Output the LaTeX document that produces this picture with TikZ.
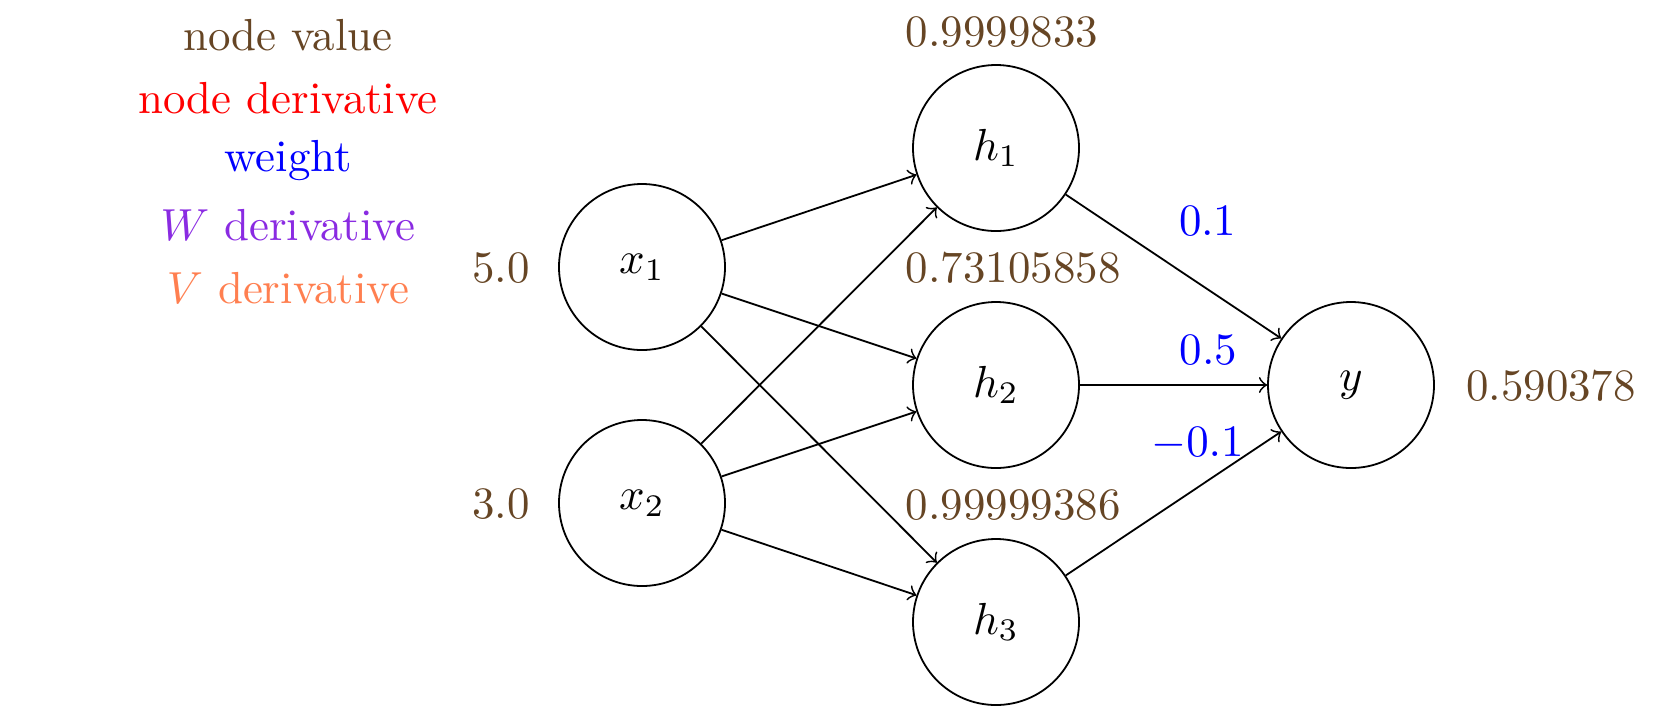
\documentclass[tikz,border=0pt]{standalone}
\usepackage{xcolor}
\definecolor{valbrown}{rgb}{0.40,0.27,0.14}
\definecolor{wderiv}{RGB}{138,43,226}
\definecolor{vderiv}{RGB}{255,127,80}
\begin{document}
\begin{tikzpicture}[x=0.2227pt,y=-0.2227pt,
  neuron/.style={circle,draw,minimum size=36.97pt,inner sep=0pt},
  val/.style={text=valbrown,anchor=base,inner sep=0pt},
  wt/.style={text=blue,anchor=base,inner sep=0pt},
  leg/.style={anchor=base,inner sep=0pt},
  conn/.style={->}]
\useasboundingbox (0,0) rectangle (1658,705);
% legend
\node[leg,text=valbrown] (l1) at (288,50) {node value};
\node[leg,text=red] (l2) at (288,113.6) {node derivative};
\node[leg,text=blue] (l3) at (288,171.4) {weight};
\node[leg,text=wderiv] (l4) at (288,240) {$W$ derivative};
\node[leg,text=vderiv] (l5) at (288,303.6) {$V$ derivative};
% neurons
\node[neuron] (x1) at (642,267) {$x_1$};
\node[neuron] (x2) at (642,503) {$x_2$};
\node[neuron] (h1) at (996,148) {$h_1$};
\node[neuron] (h2) at (996,385) {$h_2$};
\node[neuron] (h3) at (996,622) {$h_3$};
\node[neuron] (y) at (1351,385) {$y$};
% connectors
\draw[conn] (x1) -- (h1);
\draw[conn] (x1) -- (h2);
\draw[conn] (x1) -- (h3);
\draw[conn] (x2) -- (h1);
\draw[conn] (x2) -- (h2);
\draw[conn] (x2) -- (h3);
\draw[conn] (h1) -- (y);
\draw[conn] (h2) -- (y);
\draw[conn] (h3) -- (y);
% values
\node[val] (vx1) at (501,282.7) {5.0};
\node[val] (vx2) at (501,518.3) {3.0};
\node[val,anchor=base west] (vh1) at (905,46) {0.9999833};
\node[val,anchor=base west] (vh2) at (905,282.3) {0.73105858};
\node[val,anchor=base west] (vh3) at (905,519.3) {0.99999386};
\node[val] (vy) at (1551,400) {0.590378};
% weights
\node[wt] (w1) at (1207.7,235) {0.1};
\node[wt] (w2) at (1208.5,364.3) {0.5};
\node[wt] (w3) at (1197.5,456.7) {$-0.1$};
\end{tikzpicture}
\end{document}
